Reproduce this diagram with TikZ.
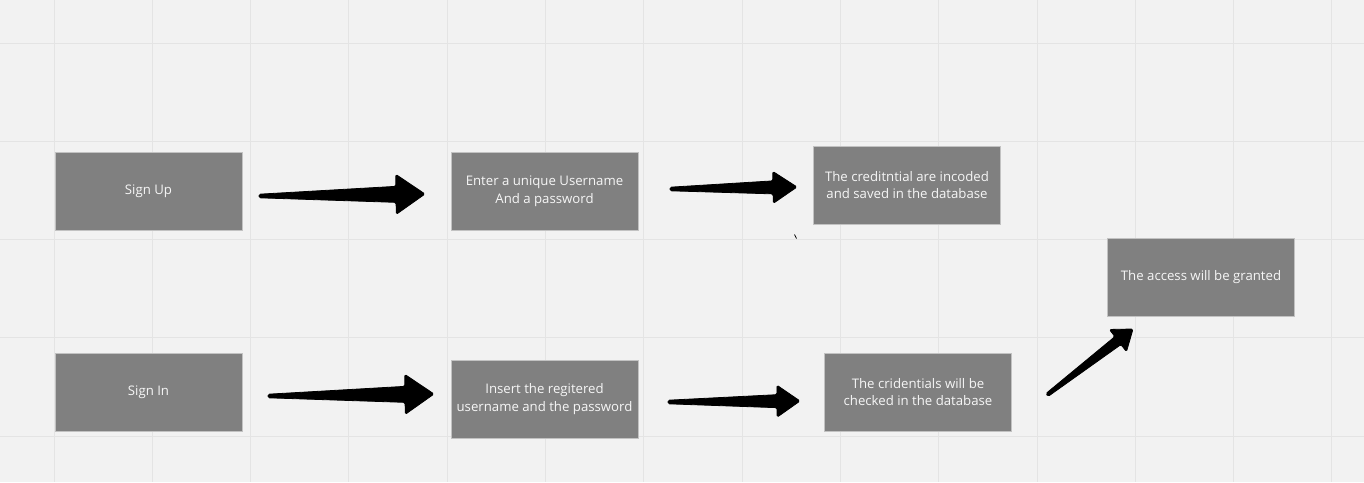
\documentclass[tikz,border=0pt]{standalone}
\usepackage{fontspec}
\setmainfont{Open Sans}
\usetikzlibrary{calc}

\definecolor{boardbg}{HTML}{F2F2F2}
\definecolor{gridline}{HTML}{E4E4E4}
\definecolor{boxfill}{HTML}{808080}
\definecolor{boxedge}{HTML}{C2C2C2}
\definecolor{boxtext}{HTML}{F6F6F6}

\tikzset{
  box/.style={rectangle,fill=boxfill,draw=boxedge,line width=0.8pt,
    minimum width=187pt,minimum height=78pt,inner sep=0pt,
    text=boxtext,align=center,font=\fontsize{13.2}{17.7}\selectfont},
  arrowfill/.style={fill=black,draw=black,line width=0.8pt,line join=round,rounded corners=1.5pt},
  gridstroke/.style={draw=gridline,line width=1pt}
}

% tail, tip, head length, head half width, shaft half width
\newcommand{\fatarrow}[5]{%
  \coordinate (hb) at ($(#2)!#3!(#1)$);
  \fill[arrowfill] ($(#1)!1.8pt!90:(#2)$) -- ($(hb)!#5!90:(#2)$) -- ($(hb)!#4!90:(#2)$)
    -- (#2) -- ($(hb)!#4!-90:(#2)$) -- ($(hb)!#5!-90:(#2)$) -- ($(#1)!1.8pt!-90:(#2)$) -- cycle;
}

\begin{document}
\begin{tikzpicture}[x=1pt,y=-1pt]
            \useasboundingbox (0,0) rectangle (1364,482);
            \fill[boardbg] (0,0) rectangle (1364,482);

            % board grid
            \foreach \gx in {0,...,13}
                \draw[gridstroke] ({54+98.3*\gx},0) -- ({54+98.3*\gx},482);
            \foreach \gy in {0,...,4}
                \draw[gridstroke] (0,{43+98.3*\gy}) -- (1364,{43+98.3*\gy});

            \node[box] (signup) at (148.5,191) {Sign Up};
            \node[box] (enter) at (544.5,191) {Enter a unique Username\\And a password};
            \node[box] (saved) at (907,185) {The creditntial are incoded\\and saved in the database};

            \node[box] (access) at (1201,277) {The access will be granted};

            \node[box] (signin) at (148.5,392) {Sign In};
            \node[box] (insert) at (544.5,399) {Insert the regitered\\username and the password};
            \node[box] (checked) at (918,392) {The cridentials will be\\checked in the database};

            \coordinate (upfrom) at (259,196);
            \coordinate (upto) at (425,194);
            \coordinate (enterfrom) at (670,189);
            \coordinate (enterto) at (797,187);
            \coordinate (infrom) at (268,396);
            \coordinate (into) at (434,394);
            \coordinate (insertfrom) at (668,402);
            \coordinate (insertto) at (800,401);
            \coordinate (checkfrom) at (1047,395);
            \coordinate (checkto) at (1133,329);

            \fatarrow{upfrom}{upto}{29pt}{20pt}{8pt}
            \fatarrow{enterfrom}{enterto}{24pt}{16pt}{6.5pt}
            \fatarrow{infrom}{into}{29pt}{20pt}{8pt}
            \fatarrow{insertfrom}{insertto}{23pt}{16pt}{6.5pt}
            \fatarrow{checkfrom}{checkto}{19pt}{14pt}{5pt}

            \draw[line width=0.8pt] (794.5,234.5) -- (796.5,238.5);
        \end{tikzpicture}
\end{document}
